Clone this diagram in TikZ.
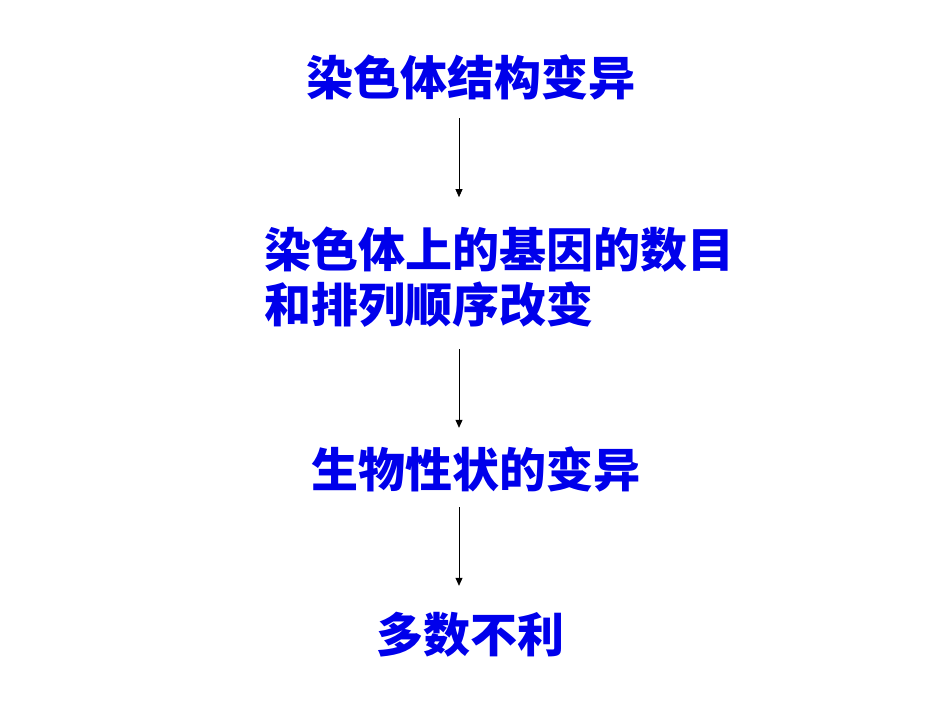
\documentclass[tikz,border=0pt]{standalone}
\usepackage{fontspec}
\newfontfamily\cjk{Noto Sans CJK SC}
\usetikzlibrary{arrows.meta}
\definecolor{stepblue}{RGB}{0,0,235}
\tikzset{
  steptext/.style={text=stepblue,font=\cjk\bfseries\fontsize{47}{55}\selectfont,inner sep=0pt},
  steparrow/.style={-{Triangle[length=8pt,width=7pt]},line width=0.8pt}
}
\begin{document}
\begin{tikzpicture}[x={1pt},y={-1pt}]
\useasboundingbox (0,0) rectangle (950,713);
\node[steptext,anchor=base,text height=38pt,text depth=4pt] (cause) at (471,95) {染色体结构变异};
\node[steptext,anchor=base west,align=left] (genes) at (264,322) {染色体上的基因的数目\\和排列顺序改变};
\node[steptext,anchor=base,text height=38pt,text depth=4pt] (trait) at (476,487) {生物性状的变异};
\node[steptext,anchor=base,text height=38pt,text depth=4pt] (result) at (470,652) {多数不利};
\coordinate (ax) at (459,0);
\draw[steparrow,shorten <=19pt] (cause.south -| ax) -- ([yshift=29pt]genes.north -| ax);
\draw[steparrow,shorten <=22pt] (genes.south -| ax) -- ([yshift=21pt]trait.north -| ax);
\draw[steparrow,shorten <=16pt] (trait.south -| ax) -- ([yshift=28pt]result.north -| ax);
\end{tikzpicture}
\end{document}
